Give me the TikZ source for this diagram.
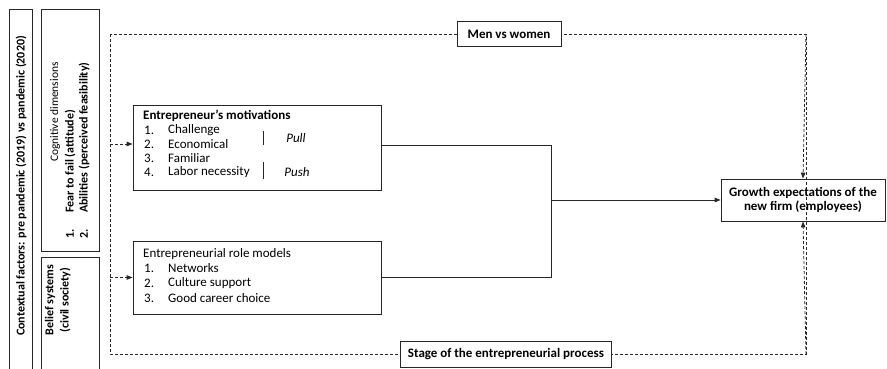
\documentclass[tikz,border=0pt]{standalone}
\usepackage{fontspec}
\setmainfont{Carlito}
\usetikzlibrary{calc,arrows.meta}

\begin{document}
\begin{tikzpicture}[x=1pt,y=-1pt,
  box/.style={draw=black!85, line width=0.8pt, inner sep=0pt},
  txt/.style={font=\fontsize{13}{14}\selectfont, inner sep=0pt},
  btxt/.style={font=\fontsize{13}{14}\selectfont\bfseries, inner sep=0pt},
  side/.style={font=\fontsize{12}{13}\selectfont\bfseries, inner sep=0pt, rotate=90},
  dashline/.style={draw=black!85, line width=0.8pt, dash pattern=on 3pt off 2pt},
  tip/.style={-{Triangle[length=6pt,width=4.5pt]}}]
  \useasboundingbox (0,0) rectangle (887,368);

  %--- Left column: context boxes ---
  \draw[box] (9,9) rectangle (32,380);
  \node[side] (ctx) at (21,186) {Contextual factors: pre pandemic (2019) vs pandemic (2020)};
  \draw[box] (41,9) rectangle (99,251);
  \node[side, font=\fontsize{11.5}{12}\selectfont] (cog) at (55,112) {Cognitive dimensions};
  \node[side] (cogone) at (70,234) {1.};
  \node[side, anchor=west] (fear) at (70,213) {Fear to fail (attitude)};
  \node[side] (cogtwo) at (84,234) {2.};
  \node[side, anchor=west] (abil) at (84,213) {Abilities (perceived feasibility)};
  \draw[box] (41,257) rectangle (99,380);
  \node[side] (belief) at (50,300) {Belief systems};
  \node[side] (civil) at (65,300) {(civil society)};

  %--- Dashed frame with its two labels ---
  \coordinate (ftl) at (110,34);
  \coordinate (fbr) at (806,354);
  \draw[dashline] (ftl) rectangle (fbr);
  \node[box, fill=white, minimum width=104pt, minimum height=25pt] (gender) at (509,34) {};
  \node[btxt] at (gender) {Men vs women};
  \node[box, fill=white, minimum width=211pt, minimum height=26pt] (stage) at (506,354) {};
  \node[btxt] at (stage) {Stage of the entrepreneurial process};

  %--- Motivations box ---
  \node[box, minimum width=248pt, minimum height=85pt] (mot) at (257,147.5) {};
  \node[btxt, anchor=west] (mottitle) at (143,116) {Entrepreneur’s motivations};
  \foreach \n/\lbl/\y in {1/Challenge/130, 2/Economical/144, 3/Familiar/158, 4/Labor necessity/172} {
    \node[txt, anchor=west] (motn\n) at (144,\y) {\n.};
    \node[txt, anchor=west] (mott\n) at (168,\y) {\lbl};
  }
  \draw[black!85, line width=0.8pt] (263,131) -- (263,145);
  \draw[black!85, line width=0.8pt] (263,162) -- (263,179);
  \node[txt, font=\fontsize{13}{14}\selectfont\itshape] (pull) at (296,138) {Pull};
  \node[txt, font=\fontsize{13}{14}\selectfont\itshape] (push) at (297,172) {Push};

  %--- Role models box ---
  \node[box, minimum width=248pt, minimum height=73pt] (role) at (257,277.5) {};
  \node[txt, anchor=west] (roletitle) at (143,254) {Entrepreneurial role models};
  \foreach \n/\lbl/\y in {1/Networks/268, 2/Culture support/283, 3/Good career choice/298} {
    \node[txt, anchor=west] (rolen\n) at (144,\y) {\n.};
    \node[txt, anchor=west] (rolet\n) at (168,\y) {\lbl};
  }

  %--- Outcome box ---
  \node[box, minimum width=164pt, minimum height=42pt] (growth) at (803,200) {};
  \node[btxt, align=center] at (growth) {Growth expectations of the\\new firm (employees)};

  %--- Connectors ---
  \coordinate (join) at (551,200);
  \draw[black!85, line width=0.8pt] ($(mot.east)+(0,-2.5)$) -| (join);
  \draw[black!85, line width=0.8pt] (role.east) -| (join);
  \draw[black!85, line width=0.8pt, tip] (join) -- (growth.west);
  \draw[dashline, tip] (ftl |- 0,144) -- ($(mot.west)+(0,-3.5)$);
  \draw[dashline, tip] (ftl |- role.west) -- (role.west);
  \draw[dashline, tip] (fbr |- ftl) -- (growth.north);
  \draw[dashline, tip] (fbr) -- (growth.south);
\end{tikzpicture}
\end{document}
